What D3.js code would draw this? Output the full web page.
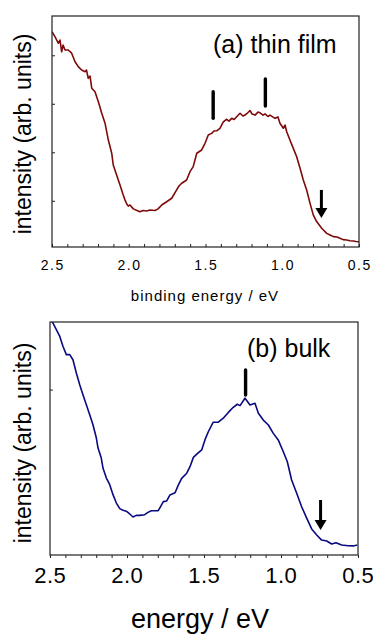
<!DOCTYPE html>
<html><head><meta charset="utf-8">
<script src="https://cdn.jsdelivr.net/npm/d3@7"></script>
<style>
body{margin:0;background:#fff}
svg{display:block}
text{font-family:Arial,"Liberation Sans",sans-serif;fill:#000}
</style>
</head><body>
<svg id="c" width="373" height="635"></svg>
<script>
// ---- data (binding energy in eV, intensity in arb. units 0..100) ----
const thinEnergy = [2.50,2.48,2.459,2.448,2.437,2.428,2.415,2.394,2.372,2.350,2.329,2.307,2.285,2.275,2.264,2.252,2.241,2.220,2.198,2.176,2.155,2.133,2.111,2.101,2.079,2.057,2.036,2.024,2.013,2.003,1.992,1.970,1.946,1.927,1.907,1.883,1.862,1.829,1.809,1.785,1.753,1.720,1.688,1.673,1.655,1.623,1.601,1.580,1.557,1.525,1.503,1.482,1.460,1.445,1.427,1.406,1.384,1.362,1.347,1.329,1.314,1.297,1.275,1.256,1.243,1.223,1.210,1.197,1.177,1.158,1.145,1.125,1.112,1.093,1.080,1.047,1.028,1.015,0.993,0.982,0.971,0.950,0.928,0.906,0.884,0.863,0.841,0.819,0.798,0.776,0.743,0.710,0.689,0.667,0.643,0.624,0.604,0.580,0.559,0.537,0.520,0.50];
const thinIntensity = [93.2,91.0,88.2,89.6,84.5,87.4,85.3,85.3,83.9,80.2,78.1,76.6,75.9,76.6,73.0,74.0,68.7,67.2,62.9,57.9,53.7,46.3,40.6,35.5,31.2,26.8,22.5,20.3,18.6,17.7,18.2,16.5,15.8,15.3,15.8,15.6,16.0,15.8,16.5,18.2,19.6,21.1,24.7,26.4,27.6,29.0,32.6,34.8,40.6,42.0,44.9,48.5,49.2,50.2,50.3,51.4,54.2,55.3,54.5,55.7,55.2,56.4,57.9,56.7,57.1,58.2,59.1,57.6,57.1,58.4,58.1,57.1,57.6,56.5,57.1,55.7,56.3,53.6,51.4,52.8,49.9,46.3,42.7,39.1,34.1,29.0,24.7,18.9,13.9,11.0,8.1,5.9,5.2,4.5,4.3,3.8,3.2,3.0,2.7,2.6,2.4,2.3];

const bulkEnergy = [2.50,2.481,2.459,2.437,2.416,2.394,2.372,2.351,2.329,2.307,2.286,2.264,2.242,2.221,2.199,2.188,2.167,2.156,2.134,2.112,2.091,2.069,2.047,2.026,2.005,1.982,1.961,1.940,1.918,1.885,1.864,1.842,1.797,1.764,1.742,1.721,1.688,1.667,1.645,1.612,1.591,1.569,1.547,1.515,1.494,1.472,1.440,1.407,1.375,1.342,1.310,1.284,1.266,1.234,1.201,1.169,1.147,1.115,1.082,1.050,1.018,0.985,0.959,0.931,0.898,0.866,0.833,0.801,0.768,0.736,0.703,0.671,0.643,0.606,0.563,0.531,0.505];
const bulkIntensity = [101,99.6,96.7,93.9,89.6,86.0,86.0,83.8,78.1,73.1,68.8,64.5,60.2,55.9,50.2,45.9,41.6,37.3,33.0,30.2,25.9,22.3,19.9,19.2,18.8,17.6,16.3,17.0,17.0,17.3,18.3,19.0,19.0,22.9,23.2,25.8,26.7,30.0,32.9,35.1,37.9,41.9,43.3,45.1,49.4,52.9,57.0,57.0,58.7,61.2,63.4,64.7,64.1,67.3,64.4,65.1,60.8,57.9,55.8,52.2,49.4,44.3,40.0,32.2,26.5,20.7,15.8,11.2,8.6,6.4,6.0,4.7,5.3,4.3,4.0,3.9,4.3];

const xTickValues = [2.5,2.0,1.5,1.0,0.5];
const xTickLabels = ["2.5","2.0","1.5","1.0","0.5"];
const thinYTicks = [20,41,62,83];
const bulkYTicks = [71];

// marker bars: energy, lower and upper intensity
const thinBarEnergy = [1.45,1.11];
const thinBarLow = [55.7,61.0];
const thinBarHigh = [67.2,72.7];
const bulkBarEnergy = [1.23];
const bulkBarLow = [68.7];
const bulkBarHigh = [79.4];
// arrows: energy, tail and tip intensity
const thinArrowEnergy = [0.745], thinArrowTail = [24.7], thinArrowTip = [12.6];
const bulkArrowEnergy = [0.743], bulkArrowTail = [23.6], bulkArrowTip = [10.7];

const svg = d3.select("#c");

function panel(cfg){
  const x = d3.scaleLinear().domain([2.5,0.5]).range([cfg.left,cfg.right]);
  const y = d3.scaleLinear().domain([0,100]).range([cfg.bottom,cfg.top]);
  const g = svg.append("g");
  const clipId = "clip"+cfg.id;
  g.append("clipPath").attr("id",clipId).append("rect")
    .attr("x",cfg.left).attr("y",cfg.top).attr("width",cfg.right-cfg.left).attr("height",cfg.bottom-cfg.top);

  // x ticks (minor every 0.1)
  const minor = d3.range(5,26).map(d=>d/10);
  const xa = d3.axisBottom(x).tickValues(minor).tickSize(cfg.tickDir*3).tickFormat("");
  const ga = g.append("g").attr("transform",`translate(0,${cfg.bottom})`).call(xa);
  ga.select(".domain").remove();
  ga.selectAll("line").attr("stroke","#222").attr("stroke-width",1);

  // y ticks
  const ya = d3.axisRight(y).tickValues(cfg.yTicks).tickSize(3).tickFormat("");
  const gy = g.append("g").attr("transform",`translate(${cfg.left},0)`).call(ya);
  gy.select(".domain").remove();
  gy.selectAll("line").attr("stroke","#222").attr("stroke-width",1);

  // curve
  const data = cfg.energy.map((e,i)=>[e,cfg.intensity[i]]);
  g.append("path").datum(data)
    .attr("clip-path",`url(#${clipId})`)
    .attr("fill","none").attr("stroke",cfg.color).attr("stroke-width",1.6)
    .attr("stroke-linejoin","round")
    .attr("d",d3.line().x(d=>x(d[0])).y(d=>y(d[1])));

  // frame
  g.append("rect").attr("x",cfg.left).attr("y",cfg.top)
    .attr("width",cfg.right-cfg.left).attr("height",cfg.bottom-cfg.top)
    .attr("fill","none").attr("stroke","#222").attr("stroke-width",1.2);

  // bars
  cfg.barE.forEach((e,i)=>{
    g.append("line").attr("x1",x(e)).attr("x2",x(e))
      .attr("y1",y(cfg.barLo[i])).attr("y2",y(cfg.barHi[i]))
      .attr("stroke","#000").attr("stroke-width",3.4).attr("stroke-linecap","round");
  });
  // arrows
  cfg.arrE.forEach((e,i)=>{
    const xa0 = x(e), yt = y(cfg.arrTail[i]), yp = y(cfg.arrTip[i]);
    const headH = 10, headW = 6;
    g.append("line").attr("x1",xa0).attr("x2",xa0).attr("y1",yt).attr("y2",yp-headH+1)
      .attr("stroke","#000").attr("stroke-width",3);
    g.append("path").attr("fill","#000")
      .attr("d",`M${xa0-headW},${yp-headH}L${xa0+headW},${yp-headH}L${xa0},${yp}Z`);
  });

  // x tick labels
  g.selectAll(".xl").data(xTickValues).enter().append("text")
    .attr("x",d=>x(d)+cfg.lsp/2).attr("y",cfg.labelY)
    .attr("text-anchor","middle")
    .style("font-size",cfg.tickFont+"px").style("letter-spacing",cfg.lsp+"px")
    .text((d,i)=>xTickLabels[i]);

  // x title
  g.append("text").attr("x",cfg.xTitleX).attr("y",cfg.xTitleY).attr("text-anchor","middle")
    .style("font-size",cfg.xTitleFont+"px").style("letter-spacing",cfg.xTitleLsp+"px")
    .text(cfg.xTitle);
  // y title
  g.append("text").attr("transform",`translate(31,${cfg.yTitleY}) rotate(-90)`)
    .attr("text-anchor","middle").style("font-size","23px")
    .text("intensity (arb. units)");
  // panel label
  g.append("text").attr("x",cfg.labX).attr("y",cfg.labY).style("font-size","25px").text(cfg.label);
}

panel({id:"a",left:52,right:359,top:16,bottom:247,tickDir:-1,yTicks:thinYTicks,
  energy:thinEnergy,intensity:thinIntensity,color:"#7f0a0a",
  barE:thinBarEnergy,barLo:thinBarLow,barHi:thinBarHigh,
  arrE:thinArrowEnergy,arrTail:thinArrowTail,arrTip:thinArrowTip,
  labelY:270,tickFont:14,lsp:1.5,
  xTitle:"binding energy / eV",xTitleX:205,xTitleY:301,xTitleFont:15,xTitleLsp:1,
  yTitleY:134,label:"(a) thin film",labX:213,labY:53});

panel({id:"b",left:50,right:358,top:322,bottom:555,tickDir:1,yTicks:bulkYTicks,
  energy:bulkEnergy,intensity:bulkIntensity,color:"#0a0a80",
  barE:bulkBarEnergy,barLo:bulkBarLow,barHi:bulkBarHigh,
  arrE:bulkArrowEnergy,arrTail:bulkArrowTail,arrTip:bulkArrowTip,
  labelY:583,tickFont:22,lsp:0.5,
  xTitle:"energy / eV",xTitleX:200,xTitleY:628,xTitleFont:27,xTitleLsp:0,
  yTitleY:443,label:"(b) bulk",labX:247,labY:357});
</script>
</body></html>
